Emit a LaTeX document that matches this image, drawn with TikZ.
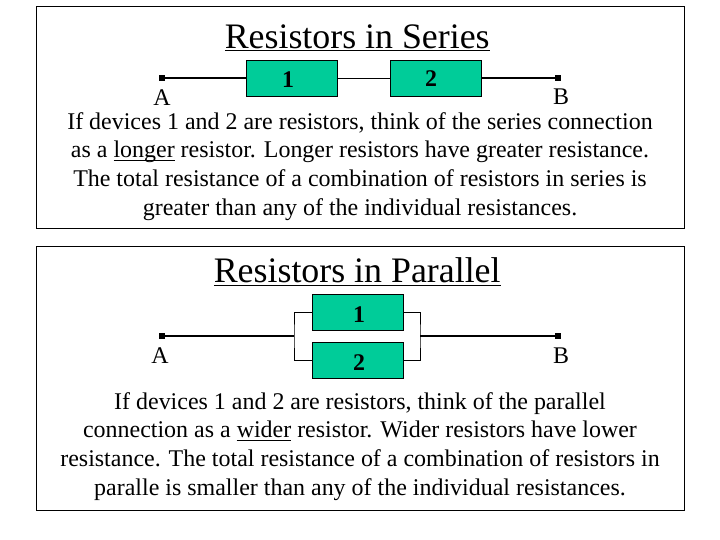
\documentclass[tikz,border=0pt]{standalone}
\usepackage{fontspec}
\setmainfont{Liberation Serif}
\usetikzlibrary{positioning}
\definecolor{mygreen}{HTML}{00CC99}
\tikzset{
	panelbox/.style={draw=black, fill=white, line width=0.6pt, rectangle, inner sep=0pt}
}
\tikzset{
	devicebox/.style={draw=black, fill=mygreen, line width=0.6pt, rectangle, inner sep=0pt, minimum width=2.275cm, minimum height=0.9cm}
}
\tikzset{
	enddot/.style={fill=black, rectangle, inner sep=0pt, minimum size=0.14cm}
}
\tikzset{
	titletext/.style={font=\fontsize{25.5}{30}\selectfont}
}
\tikzset{
	bodytext/.style={font=\fontsize{17.04}{20.4}\selectfont, align=center, inner sep=0pt}
}
\tikzset{
	labeltext/.style={font=\fontsize{17}{20}\selectfont, inner sep=0pt}
}
\tikzset{
	numtext/.style={font=\bfseries\fontsize{17}{20}\selectfont, inner sep=0pt}
}
\tikzset{
	mainwire/.style={line width=1.4pt}
}
\tikzset{
	thinwire/.style={line width=0.6pt}
}

\begin{document}
\begin{tikzpicture}

			\useasboundingbox (0,0) rectangle (18,13.5);

			\node[panelbox, minimum width=16.2cm, minimum height=5.55cm] (seriespanel) at (9,10.56) {};
			\node[panelbox, minimum width=16.2cm, minimum height=6.6cm] (parallelpanel) at (9,4.035) {};

			\begin{scope}
				\node[titletext] (seriestitle) at (8.93,12.55) {\underline{Resistors in Series}};

				\node[enddot] (sA) at (4.05,11.55) {};
				\node[enddot] (sB) at (13.95,11.55) {};
				\node[devicebox] (sone) at (7.29,11.55) {};
				\node[devicebox] (stwo) at (10.89,11.55) {};

				\draw[mainwire] (sA) -- (sone);
				\draw[thinwire] (sone) -- (stwo);
				\draw[mainwire] (stwo) -- (sB);

				\node[numtext] (soneno) at (7.2,11.5) {1};
				\node[numtext] (stwono) at (10.78,11.53) {2};
				\node[labeltext] (sAlabel) at (4.05,11.07) {A};
				\node[labeltext] (sBlabel) at (14.03,11.07) {B};

				\node[bodytext] (seriesbody) at (9,9.34) {If devices 1 and 2 are resistors, think of the series connection\\
					as a \underline{\smash{longer}} resistor. Longer resistors have greater resistance.\\
					The total resistance of a combination of resistors in series is\\
					greater than any of the individual resistances.};
			\end{scope}

			\begin{scope}
				\node[titletext] (paralleltitle) at (8.93,6.7) {\underline{Resistors in Parallel}};

				\node[enddot] (pA) at (4.05,5.1) {};
				\node[enddot] (pB) at (13.95,5.1) {};
				\node[devicebox] (pone) at (8.94,5.7) {};
				\node[devicebox] (ptwo) at (8.94,4.5) {};

				\coordinate (jL) at (7.35,5.1);
				\coordinate (jR) at (10.5,5.1);

				\draw[mainwire] (pA) -- (jL);
				\draw[mainwire] (jR) -- (pB);
				\draw[thinwire] (pone.west) -| (jL) |- (ptwo.west);
				\draw[thinwire] (pone.east) -| (jR) |- (ptwo.east);

				\node[numtext] (poneno) at (8.98,5.63) {1};
				\node[numtext] (ptwono) at (8.98,4.43) {2};
				\node[labeltext] (pAlabel) at (4,4.6) {A};
				\node[labeltext] (pBlabel) at (14.03,4.6) {B};

				\node[bodytext] (parallelbody) at (9,2.345) {If devices 1 and 2 are resistors, think of the parallel\\
					connection as a \underline{wider} resistor. Wider resistors have lower\\
					resistance. The total resistance of a combination of resistors in\\
					paralle is smaller than any of the individual resistances.};
			\end{scope}

		\end{tikzpicture}
\end{document}
